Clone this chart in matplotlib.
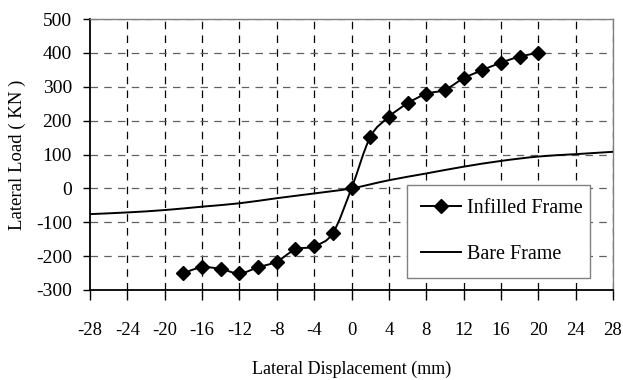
import matplotlib.pyplot as plt
import numpy as np
from matplotlib.path import Path
from matplotlib.patches import PathPatch
from matplotlib.lines import Line2D

plt.rcParams['font.family'] = ['Liberation Serif', 'DejaVu Serif']
plt.rcParams['axes.unicode_minus'] = False

# infilled frame test points (mm, kN)
infill_x = [-18, -16, -14, -12, -10, -8, -6, -4, -2, 0, 2, 4, 6, 8, 10, 12, 14, 16, 18, 20]
infill_y = [-250, -233, -238, -251, -233, -216, -180, -171, -132, 0,
            151, 211, 251, 279, 291, 325, 349, 371, 389, 400]

# bare frame analysis curve
bare_x = [-28, -24, -20, -16, -12, -8, -4, 0, 4, 8, 12, 16, 20, 24, 28]
bare_y = [-76, -71, -64, -54, -44, -29, -15, 0, 24, 44, 64, 81, 94, 101, 108]

xticks = list(range(-28, 29, 4))
yticks = list(range(-300, 501, 100))


def smooth_path(xs, ys):
    # catmull-rom style bezier through every point (like a spreadsheet "smoothed line")
    p = np.column_stack([xs, ys]).astype(float)
    n = len(p)
    verts = [p[0]]
    codes = [Path.MOVETO]
    for i in range(n - 1):
        p0 = p[i - 1] if i > 0 else p[i]
        p3 = p[i + 2] if i + 2 < n else p[i + 1]
        c1 = p[i] + (p[i + 1] - p0) / 6
        c2 = p[i + 1] - (p3 - p[i]) / 6
        verts += [c1, c2, p[i + 1]]
        codes += [Path.CURVE4] * 3
    return Path(verts, codes)


fig = plt.figure(figsize=(6.23, 3.8), dpi=100)
ax = fig.add_axes([90 / 623, 90 / 380, 523 / 623, 271 / 380])

ax.set_xlim(-28, 28)
ax.set_ylim(-300, 500)
ax.set_xticks(xticks)
ax.set_yticks(yticks)

for v in xticks[1:]:
    ax.axvline(v, color='black', lw=0.9, dashes=(6, 5), zorder=1)
for v in yticks[1:]:
    ax.axhline(v, color='#606060', lw=0.9, dashes=(6, 5), zorder=1)

ax.add_patch(PathPatch(smooth_path(bare_x, bare_y), fill=False, lw=1.4,
                       edgecolor='black', zorder=3))
ax.add_patch(PathPatch(smooth_path(infill_x, infill_y), fill=False, lw=1.4,
                       edgecolor='black', zorder=3))
ax.plot(infill_x, infill_y, linestyle='none', marker='D', ms=7,
        color='black', zorder=4)

for s in ['top', 'right']:
    ax.spines[s].set_color('#808080')
    ax.spines[s].set_linewidth(1.0)
for s in ['left', 'bottom']:
    ax.spines[s].set_color('black')
    ax.spines[s].set_linewidth(1.3)

ax.tick_params(axis='x', direction='out', length=7, width=1, pad=16, labelsize=13.5)
ax.tick_params(axis='y', direction='out', length=5, width=1, pad=8, labelsize=14)

ax.set_xlabel('Lateral Displacement (mm)', fontsize=13, labelpad=16)
ax.set_ylabel('Lateral Load ( KN )', fontsize=13.5, labelpad=7)

handles = [
    Line2D([], [], color='black', lw=1.4, marker='D', ms=7),
    Line2D([], [], color='black', lw=1.4),
]
leg = ax.legend(handles, ['Infilled Frame', 'Bare Frame'],
                loc='center', bbox_to_anchor=(0.606, 0.037, 0.35, 0.358),
                mode='expand', borderaxespad=0, fancybox=False, framealpha=1,
                edgecolor='#808080', fontsize=14.5, handlelength=2.0,
                handletextpad=0.3, labelspacing=1.35, borderpad=0.7)
leg.get_frame().set_linewidth(1.0)
leg.set_zorder(5)

fig.savefig('out.png', dpi=100)
